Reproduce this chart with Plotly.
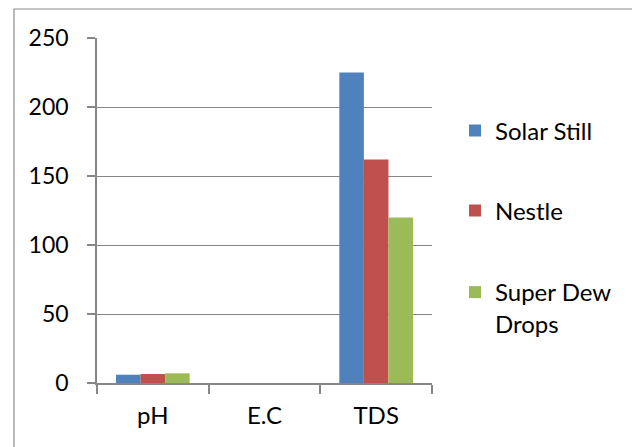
import plotly.graph_objects as go

categories = ["pH", "E.C", "TDS"]
series_names = ["Solar Still", "Nestle", "Super Dew<br>Drops"]
solar_still = [6.0, 0, 225]
nestle = [6.5, 0, 162]
super_dew = [7.0, 0, 120]
colors = ["#4F81BD", "#C0504D", "#9BBB59"]
y_ticks = [0, 50, 100, 150, 200, 250]

font_family = "Lato, Carlito, Calibri, sans-serif"
grid = "#868686"

# page is offset by the 8px body margin, so figure coords = page coords - 8
L, R, T, B = 89, 424, 30, 375
W, H = 640, 447
pw, ph = R - L, B - T

def px(x):
    return (x - L) / pw

def py(y):
    return (B - y) / ph

legend_names = ["legend", "legend2", "legend3"]
legend_y = [123, 203, 300]

fig = go.Figure()
for i, (name, vals) in enumerate(zip(series_names, [solar_still, nestle, super_dew])):
    fig.add_trace(go.Bar(x=categories, y=vals, name=name, marker_color=colors[i],
                         marker_line_width=0, legend=legend_names[i]))

legend_common = dict(xanchor="left", yanchor="middle", font=dict(size=24),
                     itemwidth=30, bgcolor="rgba(0,0,0,0)", valign="top")

fig.update_layout(
    width=W, height=H,
    margin=dict(l=L, r=W - R, t=T, b=H - B, pad=0),
    paper_bgcolor="white", plot_bgcolor="white",
    barmode="group", bargap=0.34, bargroupgap=0,
    font=dict(family=font_family, size=24, color="#000000"),
    showlegend=True,
    legend=dict(x=px(447), y=py(legend_y[0]), **legend_common),
    legend2=dict(x=px(447), y=py(legend_y[1]), **legend_common),
    legend3=dict(x=px(447), y=py(legend_y[2]), **legend_common),
    xaxis=dict(showline=True, linecolor=grid, linewidth=1.5, ticks="outside",
               tickson="boundaries", ticklen=9, tickcolor=grid, tickwidth=1.5,
               showgrid=False, ticklabelstandoff=10, fixedrange=True,
               tickfont=dict(size=24)),
    yaxis=dict(range=[0, 250], tickvals=y_ticks, showline=True, linecolor=grid,
               linewidth=1.5, ticks="outside", ticklen=8, tickcolor=grid, tickwidth=1.5,
               showgrid=True, gridcolor=grid, gridwidth=1.2, zeroline=False,
               ticklabelstandoff=14, fixedrange=True, tickfont=dict(size=23)),
    shapes=[dict(type="rect", xref="paper", yref="paper",
                 x0=px(6), x1=px(628), y0=py(460), y1=py(1),
                 line=dict(color="#8C8C8C", width=1.2), fillcolor="rgba(0,0,0,0)",
                 layer="below")],
)

fig.write_html("out.html")
